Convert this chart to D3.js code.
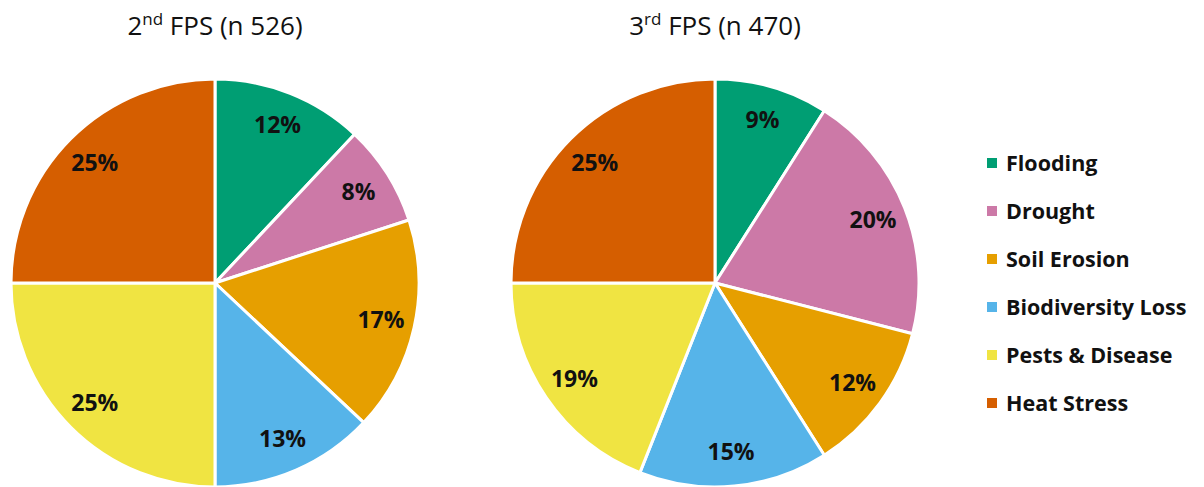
<!DOCTYPE html>
<html>
<head>
<meta charset="utf-8">
<script src="https://cdn.jsdelivr.net/npm/d3@7"></script>
<style>
  body { margin: 0; background: #fff; }
  svg { font-family: "Open Sans", Lato, sans-serif; }
</style>
</head>
<body>
<div id="chart"></div>
<script>
// categories + colours
var categories = ["Flooding", "Drought", "Soil Erosion", "Biodiversity Loss", "Pests & Disease", "Heat Stress"];
var colors = ["#009E73", "#CC79A7", "#E69F00", "#56B4E9", "#F0E442", "#D55E00"];

// percentages per survey round
var fps2 = [12, 8, 17, 13, 25, 25];
var fps3 = [9, 20, 12, 15, 19, 25];

var titles = [
  {num: "2", sup: "nd", rest: " FPS (n 526)"},
  {num: "3", sup: "rd", rest: " FPS (n 470)"}
];

var width = 1204, height = 487;
var radius = 204;

var svg = d3.select("#chart")
  .append("svg")
    .attr("width", width)
    .attr("height", height);

var pie = d3.pie().sort(null).value(d => d.value);
var arc = d3.arc().innerRadius(0).outerRadius(radius);
var labelArc = d3.arc().innerRadius(170).outerRadius(170);

var color = d3.scaleOrdinal().domain(categories).range(colors);

function drawPie(values, cx, cy, title) {
  var data = categories.map((c, i) => ({cat: c, value: values[i]}));
  var g = svg.append("g").attr("transform", "translate(" + cx + "," + cy + ")");

  g.selectAll("path")
    .data(pie(data))
    .enter()
    .append("path")
      .attr("d", arc)
      .attr("fill", d => color(d.data.cat))
      .attr("stroke", "#fff")
      .attr("stroke-width", 3)
      .attr("stroke-linejoin", "round");

  g.selectAll("text.lbl")
    .data(pie(data))
    .enter()
    .append("text")
      .attr("class", "lbl")
      .attr("transform", d => "translate(" + labelArc.centroid(d) + ")")
      .attr("text-anchor", "middle")
      .attr("dy", "0.35em")
      .attr("font-size", 23)
      .attr("font-weight", "bold")
      .attr("fill", "#111")
      .text(d => d.data.value + "%");

  // title with superscript
  var t = svg.append("text")
    .attr("x", cx)
    .attr("y", 35)
    .attr("text-anchor", "middle")
    .attr("font-size", 26)
    .attr("fill", "#111");
  t.append("tspan").text(title.num);
  t.append("tspan").attr("font-size", 17).attr("dy", -10).text(title.sup);
  t.append("tspan").attr("dy", 10).text(title.rest);
}

drawPie(fps2, 215, 283, titles[0]);
drawPie(fps3, 715, 283, titles[1]);

// legend
var legend = svg.append("g").attr("transform", "translate(987,163)");
var row = legend.selectAll("g")
  .data(categories)
  .enter()
  .append("g")
    .attr("transform", (d, i) => "translate(0," + i * 48 + ")");
row.append("rect")
  .attr("x", 0).attr("y", -5)
  .attr("width", 10).attr("height", 10)
  .attr("fill", d => color(d));
row.append("text")
  .attr("x", 19)
  .attr("dy", "0.35em")
  .attr("font-size", 21.5)
  .attr("font-weight", "bold")
  .attr("fill", "#111")
  .text(d => d);
</script>
</body>
</html>
